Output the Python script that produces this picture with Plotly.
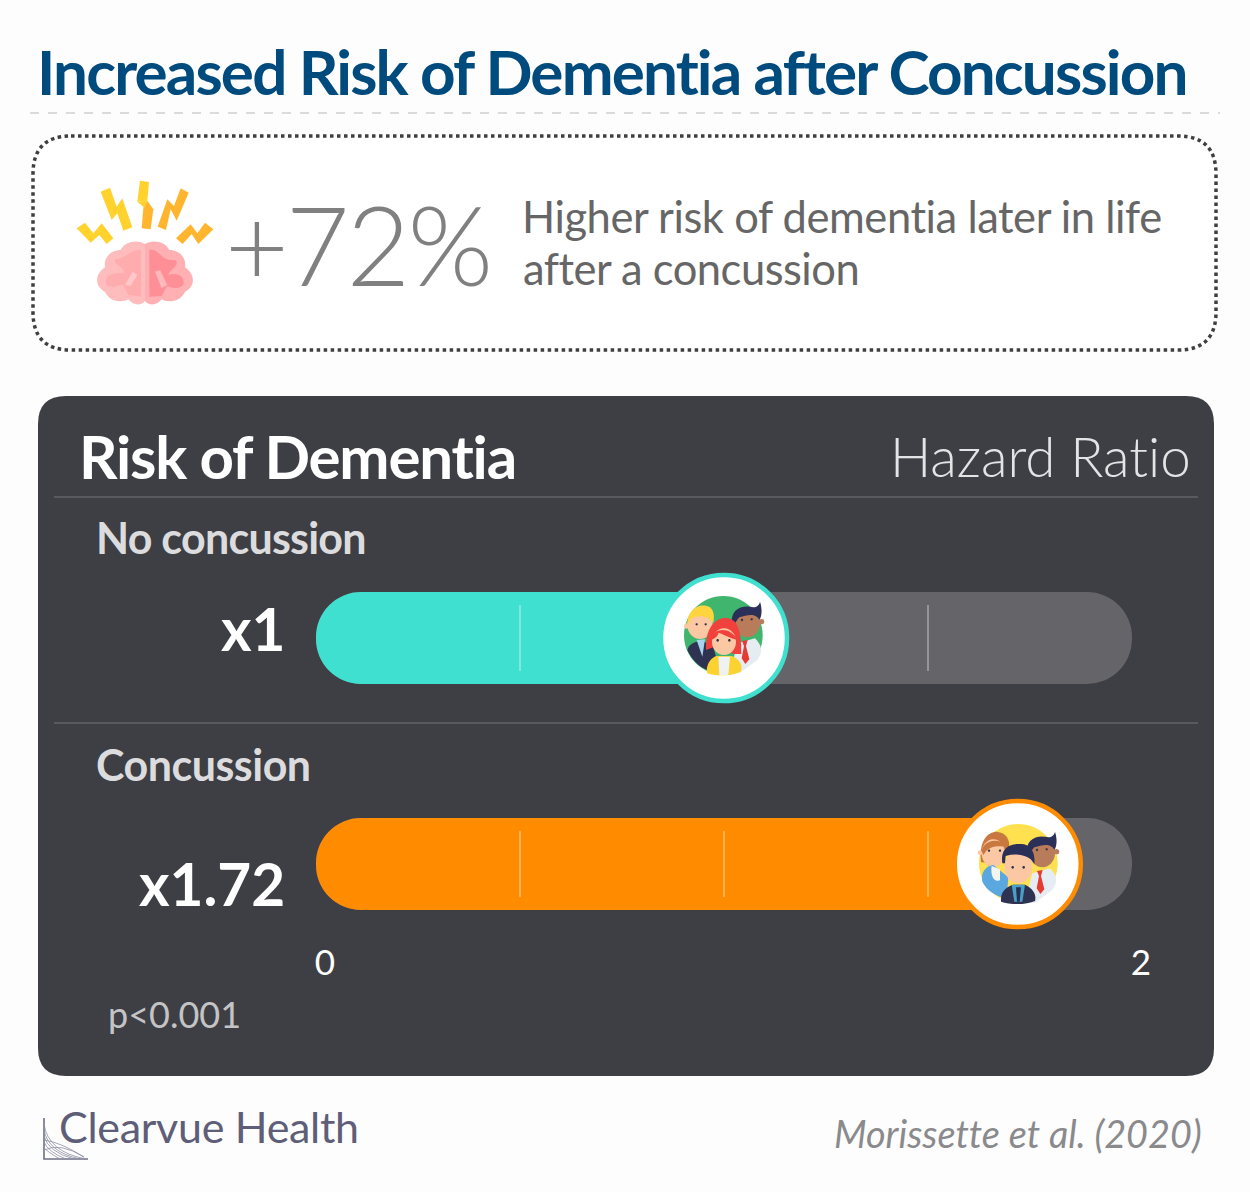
import plotly.graph_objects as go

W, H = 1250, 1192
groups = ["No concussion", "Concussion"]
group_labels = ["x1", "x1.72"]
hazard_ratio = [1, 1.72]
axis_max = 2
minor_ticks = [[0.5, 1.5], [0.5, 1, 1.5]]
title = "Increased Risk of Dementia after Concussion"

TEAL, ORANGE, TRACK, PANEL = "#40e0d0", "#ff8c00", "#656468", "#3e3f44"
BG = "#fdfdfe"
FONT = "Lato"


def px(x, y):
    return f"{x / W:.5f},{1 - y / H:.5f}"


def to_path(cmds):
    """cmds: list of (letter, x, y, ...) in image pixels"""
    out = []
    for c in cmds:
        if c[0] == "Z":
            out.append("Z")
        else:
            pts = c[1:]
            out.append(c[0] + " ".join(px(pts[i], pts[i + 1]) for i in range(0, len(pts), 2)))
    return " ".join(out)


shapes = []


def add_path(cmds, fill=None, line=None, lw=0, dash=None, layer="above"):
    s = dict(type="path", xref="paper", yref="paper", path=to_path(cmds), layer=layer,
             line=dict(color=line or "rgba(0,0,0,0)", width=lw))
    if dash:
        s["line"]["dash"] = dash
    if fill:
        s["fillcolor"] = fill
    shapes.append(s)


def rrect(x0, y0, x1, y1, r):
    return [("M", x0 + r, y0), ("L", x1 - r, y0), ("Q", x1, y0, x1, y0 + r), ("L", x1, y1 - r),
            ("Q", x1, y1, x1 - r, y1), ("L", x0 + r, y1), ("Q", x0, y1, x0, y1 - r), ("L", x0, y0 + r),
            ("Q", x0, y0, x0 + r, y0), ("Z",)]


def circle(cx, cy, rx, ry=None):
    ry = rx if ry is None else ry
    k = 0.5523
    return [("M", cx - rx, cy), ("C", cx - rx, cy - k * ry, cx - k * rx, cy - ry, cx, cy - ry),
            ("C", cx + k * rx, cy - ry, cx + rx, cy - k * ry, cx + rx, cy),
            ("C", cx + rx, cy + k * ry, cx + k * rx, cy + ry, cx, cy + ry),
            ("C", cx - k * rx, cy + ry, cx - rx, cy + k * ry, cx - rx, cy), ("Z",)]


def zoomed(ox, oy):
    def z(x, y):
        return ox + x / 3, oy + y / 3
    return z


def poly(z, pts, fill):
    cmds = []
    for i, (x, y) in enumerate(pts):
        cmds.append(("M" if i == 0 else "L",) + z(x, y))
    cmds.append(("Z",))
    add_path(cmds, fill=fill)


def zcircle(z, x, y, r, fill, ry=None):
    cx, cy = z(x, y)
    add_path(circle(cx, cy, r / 3, (ry if ry else r) / 3), fill=fill)


def zcurve(z, cmds, fill):
    out = []
    for c in cmds:
        if c[0] == "Z":
            out.append(c)
        else:
            p = []
            for i in range(1, len(c), 2):
                p += list(z(c[i], c[i + 1]))
            out.append((c[0], *p))
    add_path(out, fill=fill)


# page furniture
shapes.append(dict(type="line", xref="paper", yref="paper", x0=30 / W, x1=1220 / W, y0=1 - 113 / H, y1=1 - 113 / H,
                   line=dict(color="#cfd0d2", width=1.5, dash="dash"), layer="below"))
add_path(rrect(33, 136, 1216, 350, 38), fill="#ffffff", line="#3f3f3f", lw=3.5, dash="dot", layer="below")
add_path(rrect(38, 396, 1214, 1076, 28), fill=PANEL, layer="below")
for yy in (497, 723):
    shapes.append(dict(type="line", xref="paper", yref="paper", x0=54 / W, x1=1198 / W, y0=1 - yy / H, y1=1 - yy / H,
                       line=dict(color="#636367", width=1.5), layer="below"))

# scale ticks inside the bars
for lab, ticks in zip(groups, minor_ticks):
    for t in ticks:
        shapes.append(dict(type="line", xref="x", yref="y", x0=t, x1=t,
                           y0=(0.854 if lab == groups[0] else -0.146), y1=(1.146 if lab == groups[0] else 0.146),
                           line=dict(color="rgba(255,255,255,0.42)", width=1.5), layer="above"))

# brain icon
z = zoomed(60, 170)
Y1, Y2, Y3 = "#ffd22e", "#ffc22d", "#ffb52e"
poly(z, [(50, 175), (75, 158), (100, 190), (125, 160), (160, 205), (140, 222), (118, 195), (92, 218)], Y1)
poly(z, [(122, 65), (150, 53), (170, 110), (187, 85), (217, 172), (190, 182), (172, 130), (155, 150)], Y1)
poly(z, [(240, 32), (267, 36), (262, 92), (232, 95)], Y1)
poly(z, [(232, 95), (262, 92), (250, 125), (245, 175), (250, 110)], Y1)
poly(z, [(262, 92), (280, 118), (272, 178), (245, 175), (250, 120)], Y3)
poly(z, [(362, 55), (386, 68), (350, 152), (332, 118), (318, 180), (293, 170), (322, 88), (342, 108)], Y3)
poly(z, [(435, 158), (460, 178), (415, 222), (395, 192), (368, 222), (348, 205), (392, 163), (412, 190)], Y3)
zcurve(z, [("M", 255, 222), ("C", 235, 208, 195, 212, 182, 240), ("C", 150, 240, 130, 265, 135, 292),
           ("C", 102, 315, 105, 350, 135, 365), ("C", 150, 398, 190, 398, 205, 388),
           ("C", 220, 408, 245, 408, 255, 392), ("Z",)], "#ffbcbd")
zcurve(z, [("M", 255, 222), ("C", 275, 208, 315, 212, 328, 240), ("C", 360, 240, 380, 265, 375, 292),
           ("C", 408, 315, 405, 350, 375, 365), ("C", 360, 398, 320, 398, 305, 388),
           ("C", 290, 408, 265, 408, 255, 392), ("Z",)], "#ffb0b3")
zcurve(z, [("M", 243, 240), ("C", 215, 235, 200, 265, 165, 268), ("C", 160, 285, 195, 290, 190, 310),
           ("C", 150, 305, 130, 325, 140, 345), ("C", 165, 360, 180, 340, 190, 345),
           ("L", 205, 375), ("L", 243, 380), ("Z",)], "#ffacae")
zcurve(z, [("M", 268, 240), ("C", 300, 235, 300, 275, 345, 270), ("C", 365, 285, 325, 300, 325, 315),
           ("C", 360, 305, 375, 325, 370, 345), ("C", 345, 365, 330, 345, 320, 350),
           ("L", 305, 378), ("L", 268, 380), ("Z",)], "#ff8f96")
poly(z, [(195, 345), (218, 305), (232, 315), (212, 348)], "#ffc7c8")
poly(z, [(285, 305), (300, 300), (322, 345), (305, 355)], "#ffb8bb")

SK, SK2 = "#fcc8a4", "#b87c5b"
NAVY, SUIT = "#2b3058", "#2d3350"


def right_man(z):
    zcurve(z, [("M", 262, 250), ("L", 315, 235), ("C", 335, 255, 340, 275, 322, 300),
               ("L", 270, 338), ("L", 240, 338), ("Z",)], "#e6edf2")
    zcircle(z, 335, 185, 8, SK2)
    zcircle(z, 292, 190, 38, SK2, 42)
    zcurve(z, [("M", 246, 190), ("C", 240, 150, 275, 132, 310, 142), ("C", 320, 142, 328, 135, 330, 125),
               ("C", 338, 150, 335, 170, 328, 180), ("C", 320, 160, 295, 162, 268, 172), ("C", 262, 178, 256, 190, 250, 195), ("Z",)], NAVY)
    zcircle(z, 276, 180, 3.5, "#333344")
    zcircle(z, 305, 178, 3.5, "#333344")
    poly(z, [(276, 243), (293, 240), (288, 258), (298, 298), (286, 312), (275, 295), (282, 258)], "#e53b32")


# people icon: no concussion
z = zoomed(650, 560)
zcircle(z, 220, 226, 118, "#3fb56d")
right_man(z)
zcurve(z, [("M", 112, 270), ("C", 120, 240, 165, 235, 190, 262), ("L", 198, 290), ("L", 172, 330), ("C", 150, 322, 125, 300, 112, 270), ("Z",)], SUIT)
poly(z, [(140, 240), (165, 238), (157, 290)], "#a8d4ee")
zcircle(z, 110, 198, 8, SK)
zcircle(z, 150, 195, 38, SK, 42)
zcurve(z, [("M", 113, 195), ("C", 108, 150, 150, 125, 180, 142), ("C", 195, 155, 192, 175, 190, 190),
           ("C", 175, 165, 145, 165, 125, 175), ("Z",)], "#ffd53f")
zcircle(z, 140, 193, 3.5, "#333344")
zcircle(z, 167, 193, 3.5, "#333344")
zcurve(z, [("M", 168, 270), ("C", 165, 200, 200, 172, 228, 174), ("C", 262, 176, 275, 210, 274, 282), ("L", 252, 282), ("L", 190, 262), ("Z",)], "#f0413d")
zcurve(z, [("M", 172, 340), ("C", 165, 310, 190, 285, 205, 288), ("L", 245, 288), ("C", 265, 295, 282, 315, 272, 335),
           ("C", 250, 347, 200, 350, 172, 340), ("Z",)], "#fbd22f")
poly(z, [(205, 290), (240, 290), (235, 345), (208, 345)], "#eef2f2")
zcircle(z, 222, 245, 36, SK, 40)
zcurve(z, [("M", 182, 240), ("C", 185, 205, 240, 195, 262, 240), ("C", 235, 232, 215, 220, 205, 218), ("C", 205, 228, 195, 235, 182, 240), ("Z",)], "#f0413d")
zcircle(z, 203, 241, 4, "#333344")
zcircle(z, 238, 241, 4, "#333344")

# people icon: concussion
z = zoomed(945, 790)
zcircle(z, 220, 220, 118, "#ffe14f")
right_man(z)
zcurve(z, [("M", 108, 217), ("C", 100, 150, 130, 125, 155, 125), ("C", 185, 128, 195, 150, 192, 172),
           ("L", 165, 218), ("L", 130, 218), ("Z",)], "#c9793f")
zcircle(z, 105, 188, 7, SK)
zcircle(z, 145, 190, 35, SK, 42)
zcurve(z, [("M", 110, 185), ("C", 115, 150, 160, 140, 188, 170), ("C", 160, 168, 130, 165, 116, 195), ("Z",)], "#c9793f")
zcircle(z, 132, 182, 3.5, "#333344")
zcircle(z, 165, 182, 3.5, "#333344")
zcurve(z, [("M", 112, 275), ("C", 105, 245, 125, 228, 145, 225), ("L", 190, 262), ("L", 185, 325), ("C", 150, 320, 125, 300, 112, 275), ("Z",)], "#5aa8df")
zcurve(z, [("M", 140, 228), ("L", 165, 238), ("L", 165, 270), ("C", 150, 280, 135, 260, 140, 228), ("Z",)], "#f4f5ef")
zcurve(z, [("M", 168, 335), ("C", 165, 300, 190, 288, 205, 284), ("L", 240, 284), ("C", 265, 295, 275, 315, 270, 333),
           ("C", 245, 345, 195, 345, 168, 335), ("Z",)], SUIT)
poly(z, [(200, 284), (240, 284), (232, 335), (208, 335)], "#4a9fc8")
poly(z, [(213, 292), (228, 292), (224, 335), (216, 335)], "#243050")
zcircle(z, 220, 232, 42, SK, 48)
zcurve(z, [("M", 172, 220), ("C", 165, 170, 200, 160, 225, 162), ("C", 255, 160, 272, 185, 268, 222),
           ("C", 255, 195, 215, 188, 182, 198), ("L", 180, 220), ("Z",)], NAVY)
zcircle(z, 203, 232, 4, "#333344")
zcircle(z, 236, 232, 4, "#333344")

# logo
LOGO = "#6f6f88"
add_path([("M", 44, 1118), ("L", 44, 1159), ("L", 88, 1159)], line=LOGO, lw=1.6)
for a, b in [(1124, 78), (1130, 72), (1136, 66), (1142, 58), (1148, 52)]:
    add_path([("M", 44, a), ("Q", 48, 1152, b + 8, 1159)], line="#8f8fa5", lw=0.8)
for a, b in [(1140, 60), (1150, 50)]:
    add_path([("M", 44, a), ("Q", 60, 1142, 84, 1157)], line="#8f8fa5", lw=0.8)

fig = go.Figure()
fig.add_trace(go.Bar(y=groups, base=[0] * len(groups), x=[axis_max] * len(groups), orientation="h", width=0.407,
                     marker=dict(color=TRACK, line_width=0), hoverinfo="skip", showlegend=False))
fig.add_trace(go.Bar(y=groups, base=[0] * len(groups), x=hazard_ratio, orientation="h", width=0.407,
                     marker=dict(color=[TEAL, ORANGE], line_width=0), showlegend=False))
fig.add_trace(go.Scatter(y=groups, x=hazard_ratio, mode="markers", cliponaxis=False, showlegend=False,
                         marker=dict(size=126, color="#ffffff", line=dict(color=[TEAL, ORANGE], width=4.5))))

ann = []


def text(t, x, y, size, color, anchor="left", family=FONT, weight=400, style="normal"):
    ann.append(dict(text=t, x=x / W, y=1 - y / H, xref="paper", yref="paper", xanchor=anchor, yanchor="middle",
                    showarrow=False, borderpad=0, font=dict(family=family, size=size, color=color, weight=weight, style=style)))


text(title, 36, 71, 62, "#004b7d", weight=700)
text("+72%", 224, 243, 110, "#808080", weight=300)
text("Higher risk of dementia later in life", 521, 216, 43.5, "#666666")
text("after a concussion", 522, 268, 43.5, "#666666")
text("Risk of Dementia", 78, 456, 60, "#ffffff", weight=700)
text("Hazard Ratio", 1192, 456, 54.7, "#e4e4e6", anchor="right", weight=300)
text(groups[0], 95, 538, 43, "#dcdcde", weight=700)
text(groups[1], 95, 764, 43, "#dcdcde", weight=700)
text(group_labels[0], 286, 628, 58.5, "#ffffff", anchor="right", weight=700)
text(group_labels[1], 286, 883, 58.5, "#ffffff", anchor="right", weight=700)
text("p<0.001", 107, 1014, 36, "#c4c4c6")
text("Clearvue Health", 58, 1126, 43, "#5e5e78")
text("Morissette et al. (2020)", 1203, 1133, 37.8, "#8a8a8c", anchor="right", style="italic")

fig.update_layout(
    width=W, height=H, margin=dict(l=0, r=0, t=0, b=0, autoexpand=False), paper_bgcolor=BG, plot_bgcolor="rgba(0,0,0,0)",
    barmode="overlay", barcornerradius=46, shapes=shapes, annotations=ann, showlegend=False,
    xaxis=dict(domain=[316 / W, 1132 / W], range=[0, axis_max], tickvals=[0, axis_max], ticktext=["0", "2"],
               showgrid=False, zeroline=False, showline=False, ticks="", ticklabelshift=9, ticklabelstandoff=4,
               tickfont=dict(family=FONT, size=35, color="#ffffff")),
    yaxis=dict(domain=[1 - 935 / H, 1 - 525 / H], range=[-0.314, 1.5], type="category",
               categoryorder="array", categoryarray=groups[::-1], showticklabels=False, showgrid=False,
               zeroline=False, showline=False),
)
page_css = """
document.body.style.margin = '0';
document.documentElement.style.overflow = 'hidden';
var spacing = [['Increased Risk', -1.85, 'l'], ['+72%', -3, 'l'], ['Risk of Dementia', -1.2, 'l'], ['No concussion', -0.75, 'l'],
  ['Concussion', -0.5, 'l'], ['Higher', -0.45, 'l'], ['after a', -0.5, 'l'], ['Clearvue', -0.3, 'l'],
  ['Hazard', 0, 'r'], ['Morissette', 0, 'r']];
document.querySelectorAll('.annotation-text').forEach(function (t) {
  spacing.forEach(function (s) {
    if (t.textContent.indexOf(s[0]) === 0) {
      var edge = function () { var b = t.getBBox(); return s[2] === 'l' ? b.x : b.x + b.width; };
      var before = edge();
      t.style.fontVariantLigatures = 'none';
      t.style.letterSpacing = s[1] + 'px';
      t.setAttribute('x', parseFloat(t.getAttribute('x')) + (before - edge()));
    }
  });
});
"""
fig.write_html("out.html", post_script=page_css, config=dict(displayModeBar=False))
